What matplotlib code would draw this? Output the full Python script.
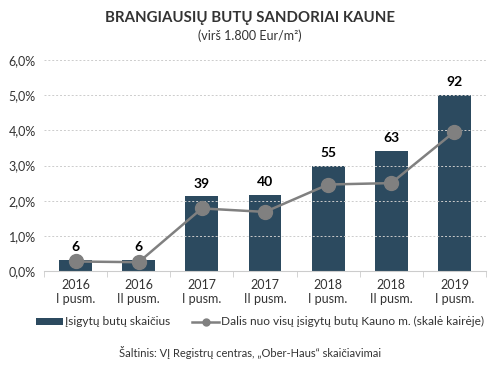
import matplotlib
matplotlib.use("Agg")
import matplotlib.pyplot as plt
import numpy as np
from matplotlib.ticker import FuncFormatter, FixedLocator

plt.rcParams['font.family'] = ['Lato', 'DejaVu Sans']

categories = ["2016\nI pusm.", "2016\nII pusm.", "2017\nI pusm.", "2017\nII pusm.",
              "2018\nI pusm.", "2018\nII pusm.", "2019\nI pusm."]
counts = [6, 6, 39, 40, 55, 63, 92]
shares = [0.27, 0.25, 1.78, 1.68, 2.46, 2.50, 3.96]

bar_color = "#2c4a5f"
line_color = "#808080"
text_color = "#333333"

fig = plt.figure(figsize=(5.0, 3.73), dpi=100)
ax = fig.add_axes([0.088, 0.2735, 0.884, 0.5655])
ax2 = ax.twinx()

x = np.arange(len(categories))

# bars on hidden secondary scale
bars = ax2.bar(x, counts, width=0.52, color=bar_color, zorder=2, label="Įsigytų butų skaičius")
ax2.set_ylim(0, 92 * 6 / 5)
ax2.axis("off")
for xi, c in zip(x, counts):
    ax2.annotate(str(c), (xi, c), xytext=(0, 5), textcoords="offset points",
                 ha="center", va="bottom", fontsize=10, fontweight="bold", color="black")

ax.set_zorder(ax2.get_zorder() + 1)
ax.patch.set_visible(False)
line, = ax.plot(x, shares, color=line_color, lw=1.8, marker="o", markersize=10,
                label="Dalis nuo visų įsigytų butų Kauno m. (skalė kairėje)", zorder=3)

ax.set_ylim(0, 6)
ax.set_xlim(-0.5, len(categories) - 0.5)
ax.set_yticks(np.arange(0, 7, 1))
ax.yaxis.set_major_formatter(FuncFormatter(lambda v, p: f"{v:.1f}%".replace(".", ",")))
ax.grid(axis="y", color="#cccccc", linestyle=(0, (2, 2)), lw=0.7)
ax.set_axisbelow(True)
ax2.set_xlim(-0.5, len(categories) - 0.5)

ax.set_xticks(x)
ax.set_xticklabels(categories, fontsize=9, color=text_color, linespacing=1.15)
ax.xaxis.set_minor_locator(FixedLocator(np.arange(-0.5, len(categories), 1)))
ax.tick_params(axis="x", which="major", length=0, pad=6)
ax.tick_params(axis="x", which="minor", length=4, color="#cccccc")
ax.tick_params(axis="y", length=0, labelsize=9, labelcolor=text_color, pad=6)

for s in ["left", "right", "top"]:
    ax.spines[s].set_visible(False)
ax.spines["bottom"].set_color("#cccccc")

fig.text(0.5, 0.953, "BRANGIAUSIŲ BUTŲ SANDORIAI KAUNE", ha="center", va="center",
         fontsize=10.8, fontweight="bold", color=text_color)
fig.text(0.5, 0.905, "(virš 1.800 Eur/m²)", ha="center", va="center",
         fontsize=9, color=text_color)

fig.legend([bars, line], ["Įsigytų butų skaičius", "Dalis nuo visų įsigytų butų Kauno m. (skalė kairėje)"],
           loc="center", bbox_to_anchor=(0.52, 0.137), ncol=2, frameon=False,
           fontsize=8.6, handlelength=2.3, handleheight=0.5, columnspacing=1.8,
           handletextpad=0.15, labelcolor=text_color, markerscale=0.5)

fig.text(0.5, 0.055, "Šaltinis: VĮ Registrų centras, „Ober-Haus“ skaičiavimai", ha="center",
         va="center", fontsize=8, color=text_color)

fig.savefig("out.png", dpi=100)
